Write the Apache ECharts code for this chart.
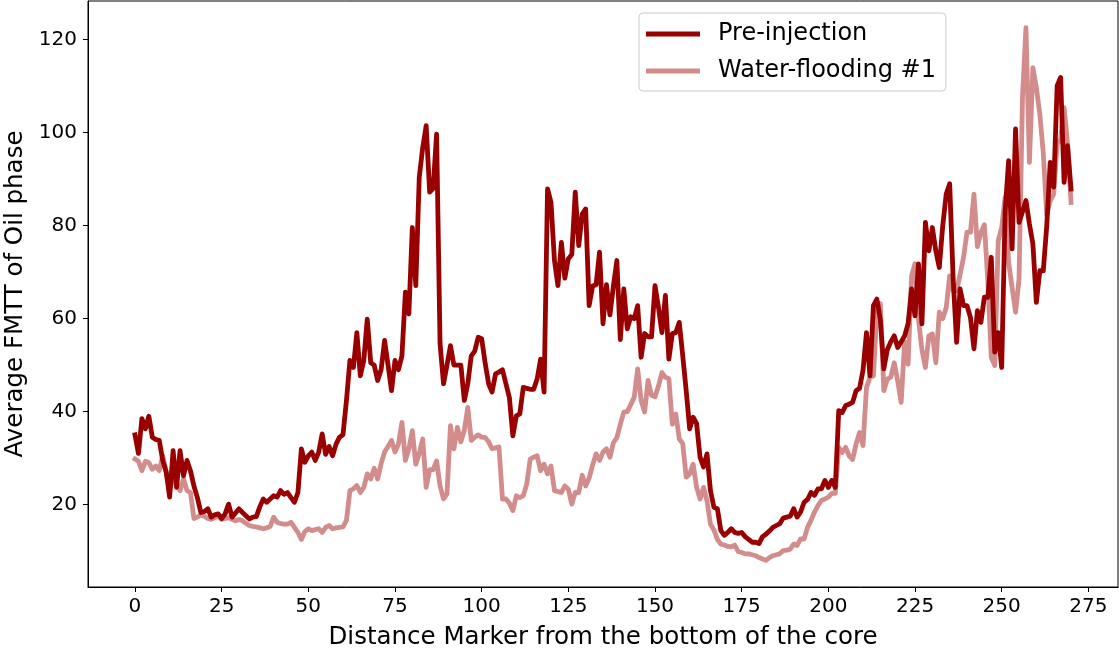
<!DOCTYPE html>
<html>
<head>
<meta charset="utf-8">
<script src="https://cdn.jsdelivr.net/npm/echarts@6/dist/echarts.min.js"></script>
<style>
html,body{margin:0;padding:0;background:#ffffff;}
#chart{width:1119px;height:649px;}
</style>
</head>
<body>
<div id="chart"></div>
<script>
// Distance markers run from 0 upward in steps of 1 (one value per marker)
const markerStart = 0;
const markerStep = 1;

const seriesNames = ['Pre-injection', 'Water-flooding #1'];

const preInjection = [
  35, 31, 38.5, 36.3, 39, 34.5, 34, 33.8, 29.5, 27,
  21.6, 31.6, 23.7, 31.6, 26.2, 29.5, 27.3, 24, 21.5, 18.3,
  18.5, 19.1, 17.3, 17.8, 18, 17, 18, 20.1, 17.3, 18.2,
  19.1, 18.3, 17.6, 16.9, 17.3, 17.4, 19.5, 21.2, 20.5, 21.2,
  21.9, 21.6, 23, 22.2, 22.6, 21.5, 20.5, 22.6, 32, 29.1,
  30.5, 31.3, 29.5, 31.3, 35.2, 30.8, 32.5, 30.5, 33, 34.5,
  35, 42.4, 51, 49.5, 57, 47.7, 51, 59.9, 50.5, 50,
  46.7, 49, 55.3, 50, 44.5, 51, 49, 52, 65.7, 61,
  79.6, 67.1, 90.4, 96.8, 101.5, 87.2, 88, 99.7, 54.6, 46,
  50, 54.2, 50, 50, 50, 42.4, 46, 52, 53, 56,
  55.7, 50.5, 46, 44.2, 48.1, 48.5, 49, 46, 43, 34.8,
  39.1, 39.5, 45.2, 45, 44.8, 44.8, 47, 51.3, 44.2, 87.9,
  85, 72.5, 67.1, 76.4, 68.7, 72.9, 73.8, 87.2, 75.7, 82.5,
  83.6, 62.8, 67, 67.3, 74.3, 58.9, 67.3, 60.8, 67, 72.5,
  55.5, 66.4, 57.8, 60.4, 60, 62.8, 51.7, 56.8, 56.1, 56.1,
  67.1, 62.4, 57, 65, 51.3, 56.8, 57, 59.2, 52, 44.5,
  36.3, 38.8, 37.4, 30.2, 28.1, 30.9, 23, 19.4, 19.1, 14.4,
  13.4, 14, 14.8, 14, 13.8, 14, 13.1, 12.5, 11.9, 11.9,
  11.6, 13.1, 13.6, 14.3, 15.1, 15.5, 15.9, 17.1, 17.3, 17.5,
  19.1, 17.3, 18.4, 20.5, 21.1, 22.6, 22, 23.4, 23.4, 25.2,
  23.7, 25.2, 23.7, 40.2, 39.8, 41.3, 41.6, 42, 44.5, 45,
  48.9, 57, 47.7, 62.8, 64.2, 59.8, 49.2, 53.3, 55, 56.3,
  53.8, 55, 56.3, 58.9, 66.4, 60.6, 71.8, 58.9, 80.7, 74.6,
  79.6, 74.6, 71, 80, 86.8, 89, 68.6, 54.9, 66.4, 62.8,
  62.8, 60.2, 53.5, 61.7, 59.2, 64.6, 64.6, 73.2, 52.8, 57,
  49.5, 83.2, 94, 75, 100.8, 80.7, 83, 85.4, 80.4, 76.1,
  63.5, 70.3, 70.3, 80, 93.6, 88.3, 110.1, 111.9, 89.3, 97.2,
  87.9
];

const waterFlooding = [
  29.8, 29.3, 27.3, 29.3, 29, 27.6, 28.3, 27.3, 30.5, 27,
  23, 26, 24.5, 23, 25.6, 23, 22.6, 17, 17.3, 17.8,
  17.5, 17, 16.8, 17.2, 17.5, 16.8, 17, 17.2, 16.8, 16.5,
  16.8, 16.5, 16, 15.5, 15.3, 15.2, 15, 14.8, 15, 15.3,
  17.3, 16.2, 15.9, 15.8, 15.8, 16.2, 15.1, 14, 12.5, 14.2,
  14.8, 14.4, 14.6, 14.8, 14, 15.1, 15.5, 14.8, 15, 15.1,
  15.2, 16.6, 23, 23.4, 24.1, 22.6, 23.7, 26.6, 25.5, 27.8,
  25.5, 28.8, 31.3, 32.5, 33.8, 31.3, 33, 37.7, 29.5, 32,
  35.9, 28.7, 31, 34.1, 23.7, 27.5, 27.5, 29.4, 24, 21.2,
  22.3, 37, 32, 36.6, 33.5, 36, 40.9, 33.8, 34.5, 35,
  34.5, 34.4, 33.5, 32, 32.2, 32.4, 21.2, 21.2, 20.3, 18.7,
  21.9, 21.5, 21.9, 24.4, 29.8, 30.2, 30.5, 27.3, 28.7, 26.6,
  28.3, 23, 22.8, 22.6, 24, 23.3, 20.1, 22.6, 22.6, 26.3,
  24, 25.7, 28.5, 30.9, 29.5, 31.3, 32, 30.2, 33.3, 34.4,
  37.3, 39.9, 40, 41.5, 43.1, 49.2, 42.4, 39.9, 46.7, 43.5,
  43.2, 45.5, 48.4, 47.4, 47.1, 37.3, 39.5, 34.1, 33.1, 25.9,
  26.6, 28.7, 23.7, 21.2, 23.7, 20.8, 15.8, 14.5, 12.5, 11.5,
  11.3, 11, 10.9, 11.3, 9.9, 9.7, 9.4, 9.4, 9.2, 9,
  8.6, 8.3, 8, 8.6, 9, 9.2, 9.4, 10.1, 10.2, 10.4,
  11.5, 11.2, 12.6, 12.6, 15.1, 16.6, 18.4, 19.8, 20.9, 21.2,
  21.6, 22.4, 22.4, 32.3, 31.2, 32.3, 30.5, 29.7, 33, 35.5,
  32.7, 45.2, 47.4, 47.7, 61.4, 63.2, 44.5, 47, 47.4, 50.5,
  46.6, 42, 55, 50.2, 69.2, 71.8, 59.8, 53.3, 49.5, 56.3,
  56.7, 50.5, 61.4, 60, 62.4, 69.2, 66, 66, 69.5, 73.2,
  78.6, 78.6, 86.8, 75.5, 78.5, 80.2, 68.2, 51.7, 49.9, 76.8,
  79.6, 86.1, 72.1, 66.7, 61.4, 68.5, 107.6, 122.6, 93.6, 114,
  109.7, 104, 95.6, 82.2, 85.4, 86.8, 97.6, 98.6, 105.4, 97.6,
  85
];

const xTickValues = [0, 25, 50, 75, 100, 125, 150, 175, 200, 225, 250, 275];
const yTickValues = [20, 40, 60, 80, 100, 120];

const xAxisTitle = 'Distance Marker from the bottom of the core';
const yAxisTitle = 'Average FMTT of Oil phase';

const FONT = '"DejaVu Sans", Verdana, sans-serif';
const PRE_COLOR = '#990000';
const WATER_COLOR = '#d38c8c';

function toPairs(values) {
  return values.map(function (v, i) { return [markerStart + i * markerStep, v]; });
}

const chart = echarts.init(document.getElementById('chart'), null, { renderer: 'canvas' });

chart.setOption({
  animation: false,
  backgroundColor: '#ffffff',
  textStyle: { fontFamily: FONT },
  grid: {
    left: 88, right: 1, top: 1, bottom: 62,
    show: true, borderColor: '#000000', borderWidth: 1,
    outerBoundsMode: 'none', containLabel: false
  },
  legend: {
    orient: 'vertical',
    left: 639, top: 13,
    padding: [9, 10, 8, 7],
    itemGap: 13,
    itemWidth: 54, itemHeight: 5,
    icon: 'rect',
    borderColor: '#cccccc', borderWidth: 1, borderRadius: 4,
    backgroundColor: 'rgba(255,255,255,0.8)',
    textStyle: { fontSize: 24, color: '#000000', fontFamily: FONT, padding: [0, 0, 0, 13] },
    data: seriesNames
  },
  xAxis: {
    type: 'value',
    min: -13.55, max: 283.55,
    name: xAxisTitle,
    nameLocation: 'middle',
    nameGap: 38,
    nameTextStyle: { fontSize: 24.5, color: '#000000', fontFamily: FONT },
    axisLine: { show: true, onZero: false, lineStyle: { color: '#000000', width: 1 } },
    axisTick: { show: true, length: 5, lineStyle: { color: '#000000', width: 1 }, customValues: xTickValues },
    axisLabel: { fontSize: 20, color: '#000000', margin: 10, fontFamily: FONT, customValues: xTickValues },
    splitLine: { show: false }
  },
  yAxis: {
    type: 'value',
    min: 2.27, max: 128.33,
    name: yAxisTitle,
    nameLocation: 'middle',
    nameGap: 58,
    nameRotate: 90,
    nameTextStyle: { fontSize: 24.5, color: '#000000', fontFamily: FONT },
    axisLine: { show: true, onZero: false, lineStyle: { color: '#000000', width: 1 } },
    axisTick: { show: true, length: 5, lineStyle: { color: '#000000', width: 1 }, customValues: yTickValues },
    axisLabel: { fontSize: 20, color: '#000000', margin: 11, fontFamily: FONT, customValues: yTickValues },
    splitLine: { show: false }
  },
  series: [
    {
      name: seriesNames[0],
      type: 'line',
      data: toPairs(preInjection),
      symbol: 'none',
      showSymbol: false,
      z: 3,
      itemStyle: { color: PRE_COLOR },
      lineStyle: { color: PRE_COLOR, width: 4.8, join: 'round', cap: 'square' }
    },
    {
      name: seriesNames[1],
      type: 'line',
      data: toPairs(waterFlooding),
      symbol: 'none',
      showSymbol: false,
      z: 2,
      itemStyle: { color: WATER_COLOR },
      lineStyle: { color: WATER_COLOR, width: 4.8, join: 'round', cap: 'square' }
    }
  ]
});
</script>
</body>
</html>
